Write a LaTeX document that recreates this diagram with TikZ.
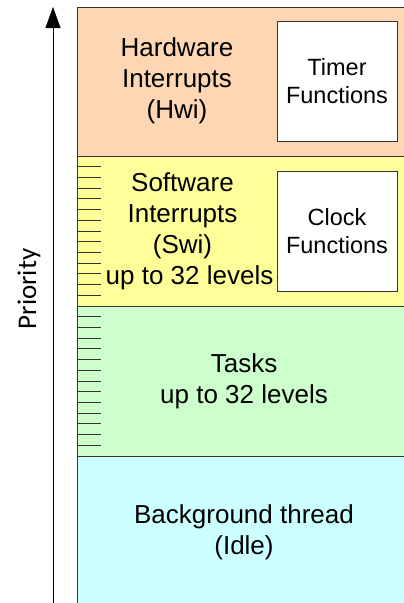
\documentclass[tikz,border=0pt]{standalone}
\usepackage{fontspec}
\setmainfont{Liberation Sans}
\newfontfamily\priofont{Carlito}
\usetikzlibrary{arrows.meta}
\definecolor{hwicol}{HTML}{FDD7B4}
\definecolor{swicol}{HTML}{FFFF99}
\definecolor{taskcol}{HTML}{CCFFCC}
\definecolor{idlecol}{HTML}{CCFFFF}
\definecolor{linecol}{HTML}{333333}
\begin{document}
\begin{tikzpicture}[x=1pt,y=-1pt,
  bandbox/.style={draw=linecol, line width=1pt, rectangle, inner sep=0pt, minimum width=350pt, anchor=north west},
  fnbox/.style={draw=linecol, line width=1pt, fill=white, rectangle, inner sep=0pt, minimum width=120pt, minimum height=120pt, align=center, font=\fontsize{23.5}{28}\selectfont},
  bandtext/.style={align=center, inner sep=0pt, font=\fontsize{26}{31}\selectfont},
  tickline/.style={draw=linecol, line width=1pt}]
\useasboundingbox (0,0) rectangle (404,603);
\begin{scope}
\clip (0,0) rectangle (404,603);
\node[bandbox, fill=idlecol, minimum height=170pt] (idle) at (77,456) {};
\node[bandbox, fill=taskcol, minimum height=150pt] (tasks) at (77,306) {};
\node[bandbox, fill=swicol, minimum height=150pt] (swi) at (77,156) {};
\node[bandbox, fill=hwicol, minimum height=149.5pt] (hwi) at (77,6.5) {};
\foreach \i in {0,...,28} {
  \draw[tickline] (77,156+\i*150/14) -- (101,156+\i*150/14);
}
\end{scope}
\node[fnbox] (timer) at (337,81.5) {Timer\\Functions};
\node[fnbox] (clock) at (337,231.5) {Clock\\Functions};
\node[bandtext] (hwitext) at (177,81) {Hardware\\Interrupts\\(Hwi)};
\node[bandtext] (switext) at (182.5,231) {Software\\Interrupts\\(Swi)\\\hspace*{14pt}up to 32 levels};
\node[bandtext] (tasktext) at (244,381) {Tasks\\up to 32 levels};
\node[bandtext] (idletext) at (244,532) {Background thread\\(Idle)};
\coordinate (abot) at (53,603);
\coordinate (atop) at (53,7);
\draw[line width=1pt, -{Triangle[length=21pt,width=15pt]}] (abot) -- (atop);
\node[rotate=90, inner sep=0pt, font=\priofont\fontsize{27}{31}\selectfont] (prio) at (29,289) {Priority};
\end{tikzpicture}
\end{document}
